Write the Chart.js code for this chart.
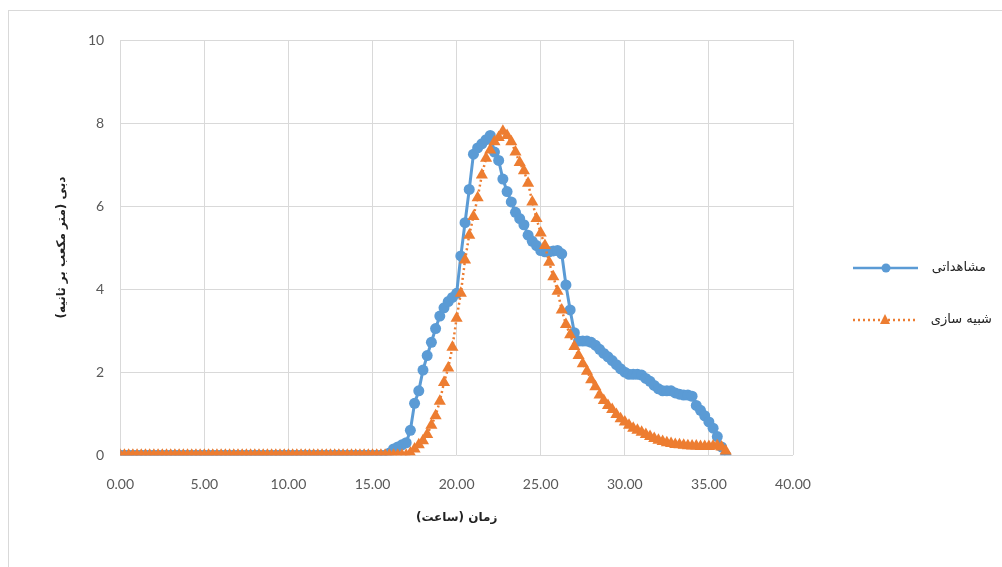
<!DOCTYPE html>
<html>
<head>
<meta charset="utf-8">
<script src="https://cdn.jsdelivr.net/npm/chart.js@4"></script>
<style>
  html, body { margin: 0; padding: 0; background: #fff; overflow: hidden; }
  #frame { position: absolute; left: 8px; top: 10px; width: 1100px; height: 700px; border: 1px solid #d9d9d9; }
  #wrap { position: absolute; left: 0; top: 0; width: 1002px; height: 567px; }
</style>
</head>
<body>
<div id="frame"></div>
<div id="wrap"><canvas id="chart" width="1002" height="567"></canvas></div>
<script>
// time (hours), 15 min steps
const times = [
  0, 0.25, 0.5, 0.75, 1, 1.25, 1.5, 1.75, 2, 2.25, 2.5, 2.75, 3, 3.25, 3.5, 3.75,
  4, 4.25, 4.5, 4.75, 5, 5.25, 5.5, 5.75, 6, 6.25, 6.5, 6.75, 7, 7.25, 7.5, 7.75,
  8, 8.25, 8.5, 8.75, 9, 9.25, 9.5, 9.75, 10, 10.25, 10.5, 10.75, 11, 11.25, 11.5, 11.75,
  12, 12.25, 12.5, 12.75, 13, 13.25, 13.5, 13.75, 14, 14.25, 14.5, 14.75, 15, 15.25, 15.5, 15.75,
  16, 16.25, 16.5, 16.75, 17, 17.25, 17.5, 17.75, 18, 18.25, 18.5, 18.75, 19, 19.25, 19.5, 19.75,
  20, 20.25, 20.5, 20.75, 21, 21.25, 21.5, 21.75, 22, 22.25, 22.5, 22.75, 23, 23.25, 23.5, 23.75,
  24, 24.25, 24.5, 24.75, 25, 25.25, 25.5, 25.75, 26, 26.25, 26.5, 26.75, 27, 27.25, 27.5, 27.75,
  28, 28.25, 28.5, 28.75, 29, 29.25, 29.5, 29.75, 30, 30.25, 30.5, 30.75, 31, 31.25, 31.5, 31.75,
  32, 32.25, 32.5, 32.75, 33, 33.25, 33.5, 33.75, 34, 34.25, 34.5, 34.75, 35, 35.25, 35.5, 35.75,
  36
];

// مشاهداتی
const observed = [
  0, 0, 0, 0, 0, 0, 0, 0, 0, 0, 0, 0, 0, 0, 0, 0,
  0, 0, 0, 0, 0, 0, 0, 0, 0, 0, 0, 0, 0, 0, 0, 0,
  0, 0, 0, 0, 0, 0, 0, 0, 0, 0, 0, 0, 0, 0, 0, 0,
  0, 0, 0, 0, 0, 0, 0, 0, 0, 0, 0, 0, 0, 0, 0, 0,
  0.05, 0.15, 0.2, 0.25, 0.3, 0.6, 1.25, 1.55, 2.05, 2.4, 2.72, 3.05, 3.35, 3.55, 3.7, 3.8,
  3.9, 4.8, 5.6, 6.4, 7.25, 7.4, 7.5, 7.6, 7.7, 7.3, 7.1, 6.65, 6.35, 6.1, 5.85, 5.7,
  5.55, 5.3, 5.15, 5.05, 4.93, 4.9, 4.9, 4.92, 4.93, 4.85, 4.1, 3.5, 2.95, 2.75, 2.75, 2.75,
  2.72, 2.65, 2.55, 2.45, 2.37, 2.28, 2.18, 2.08, 2.0, 1.95, 1.95, 1.95, 1.93, 1.85, 1.78, 1.68,
  1.6, 1.55, 1.55, 1.55, 1.5, 1.47, 1.45, 1.45, 1.42, 1.2, 1.08, 0.95, 0.8, 0.65, 0.45, 0.2,
  0
];

// شبیه سازی
const simulated = [
  0, 0, 0, 0, 0, 0, 0, 0, 0, 0, 0, 0, 0, 0, 0, 0,
  0, 0, 0, 0, 0, 0, 0, 0, 0, 0, 0, 0, 0, 0, 0, 0,
  0, 0, 0, 0, 0, 0, 0, 0, 0, 0, 0, 0, 0, 0, 0, 0,
  0, 0, 0, 0, 0, 0, 0, 0, 0, 0, 0, 0, 0, 0, 0, 0,
  0, 0, 0, 0, 0, 0.05, 0.15, 0.25, 0.35, 0.5, 0.72, 0.95, 1.3, 1.75, 2.1, 2.6,
  3.3, 3.9, 4.7, 5.3, 5.75, 6.2, 6.75, 7.15, 7.35, 7.55, 7.65, 7.8, 7.7, 7.55, 7.3, 7.05,
  6.85, 6.55, 6.1, 5.7, 5.35, 5.05, 4.65, 4.3, 3.95, 3.5, 3.15, 2.9, 2.62, 2.4, 2.2, 2.02,
  1.82, 1.65, 1.45, 1.32, 1.2, 1.1, 0.98, 0.88, 0.8, 0.72, 0.65, 0.6, 0.55, 0.5, 0.45, 0.4,
  0.36, 0.33, 0.3, 0.28, 0.26, 0.25, 0.24, 0.23, 0.22, 0.22, 0.21, 0.21, 0.21, 0.22, 0.23, 0.2,
  0.1
];

const xTitle = 'زمان (ساعت)';
const yTitle = 'دبی (متر مکعب بر ثانیه)';
const seriesNames = ['مشاهداتی', 'شبیه سازی'];

const blue = '#5b9bd5';
const orange = '#ed7d31';
const gridColor = '#d9d9d9';
const persianFont = 'bold 12px "DejaVu Sans"';

// titles and legend drawn by hand, like the Excel layout
const extras = {
  id: 'extras',
  afterDraw(chart) {
    const ctx = chart.ctx;
    const area = chart.chartArea;
    ctx.save();
    ctx.fillStyle = '#222';
    ctx.font = persianFont;
    ctx.direction = 'rtl';
    ctx.textAlign = 'center';
    ctx.textBaseline = 'middle';
    ctx.fillText(xTitle, (area.left + area.right) / 2, 518);
    ctx.save();
    ctx.translate(62, (area.top + area.bottom) / 2);
    ctx.rotate(-Math.PI / 2);
    ctx.fillText(yTitle, 0, 0);
    ctx.restore();

    // legend
    ctx.textAlign = 'right';
    ctx.font = '13px "DejaVu Sans"';
    ctx.fillStyle = '#222';
    ctx.fillText(seriesNames[0], 986, 268);
    ctx.fillText(seriesNames[1], 992, 320);

    ctx.strokeStyle = blue;
    ctx.lineWidth = 2.5;
    ctx.beginPath();
    ctx.moveTo(853, 268);
    ctx.lineTo(918, 268);
    ctx.stroke();
    ctx.fillStyle = blue;
    ctx.beginPath();
    ctx.arc(886, 268, 4.5, 0, Math.PI * 2);
    ctx.fill();

    ctx.strokeStyle = orange;
    ctx.setLineDash([2, 3]);
    ctx.beginPath();
    ctx.moveTo(853, 320);
    ctx.lineTo(918, 320);
    ctx.stroke();
    ctx.setLineDash([]);
    ctx.fillStyle = orange;
    ctx.beginPath();
    ctx.moveTo(885, 314);
    ctx.lineTo(890, 324);
    ctx.lineTo(880, 324);
    ctx.closePath();
    ctx.fill();
    ctx.restore();
  }
};

new Chart(document.getElementById('chart').getContext('2d'), {
  type: 'line',
  data: {
    datasets: [
      {
        label: seriesNames[1],
        data: times.map((t, i) => ({ x: t, y: simulated[i] })),
        borderColor: orange,
        backgroundColor: orange,
        borderWidth: 2.5,
        borderDash: [2, 3],
        pointStyle: 'triangle',
        pointRadius: 7,
        pointBorderWidth: 0,
        order: 0
      },
      {
        label: seriesNames[0],
        data: times.map((t, i) => ({ x: t, y: observed[i] })),
        borderColor: blue,
        backgroundColor: blue,
        borderWidth: 3,
        pointStyle: 'circle',
        pointRadius: 5.5,
        pointBorderWidth: 0,
        order: 1
      }
    ]
  },
  options: {
    responsive: false,
    animation: false,
    layout: { padding: { left: 72, right: 209, top: 40, bottom: 53 } },
    plugins: { legend: { display: false }, tooltip: { enabled: false } },
    scales: {
      x: {
        type: 'linear',
        min: 0,
        max: 40,
        ticks: {
          stepSize: 5,
          color: '#595959',
          font: { family: 'Lato', size: 14 },
          padding: 21,
          callback: v => v.toFixed(2)
        },
        grid: { color: gridColor, drawTicks: false },
        border: { display: false }
      },
      y: {
        min: 0,
        max: 10,
        ticks: {
          stepSize: 2,
          color: '#595959',
          font: { family: 'Lato', size: 14 },
          padding: 16
        },
        grid: { color: gridColor, drawTicks: false },
        border: { display: false }
      }
    }
  },
  plugins: [extras]
});
</script>
</body>
</html>
